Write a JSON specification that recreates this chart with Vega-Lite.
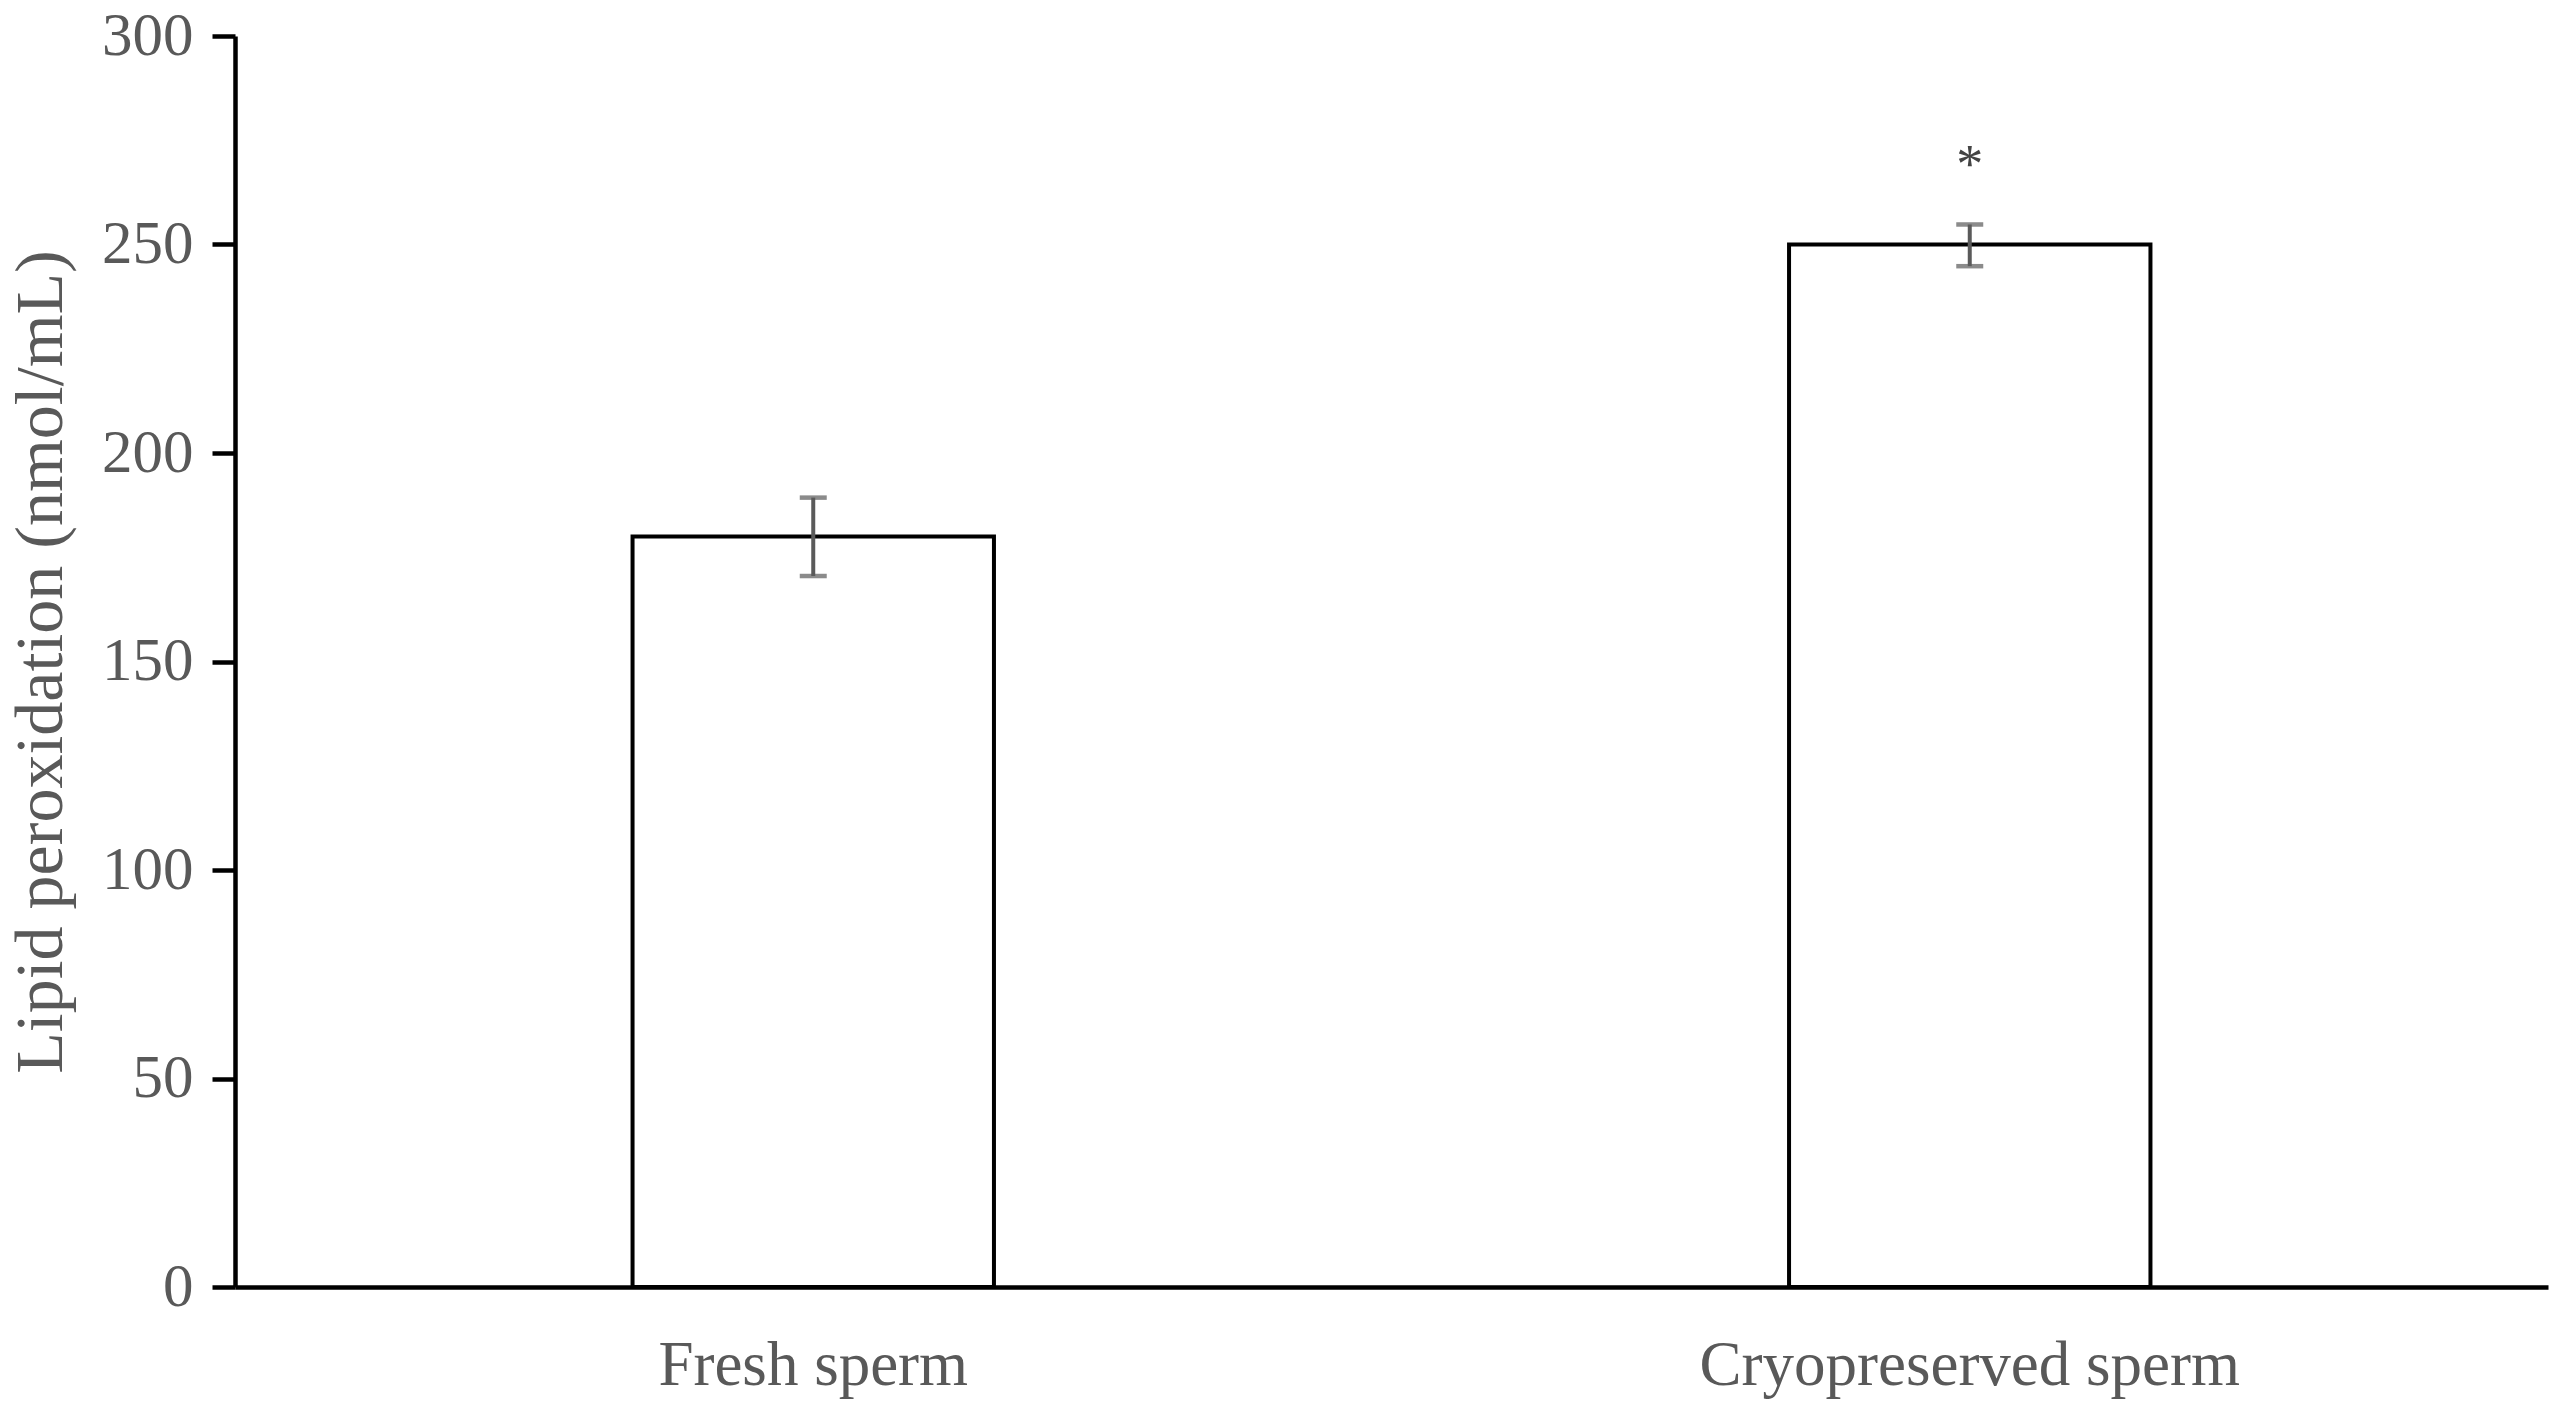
{
  "$schema": "https://vega.github.io/schema/vega-lite/v6.json",
  "autosize": {"type": "none"},
  "width": 2313,
  "height": 1251,
  "padding": {"left": 235, "top": 36, "right": 13, "bottom": 129},
  "background": "white",
  "config": {
    "view": {"stroke": null},
    "font": "Liberation Serif",
    "axis": {"grid": false}
  },
  "data": {
    "values": [
      {"group": "Fresh sperm", "mean": 180, "lower": 170.5, "upper": 189.3, "sig": ""},
      {"group": "Cryopreserved sperm", "mean": 250, "lower": 244.8, "upper": 254.8, "sig": "*"}
    ]
  },
  "encoding": {
    "x": {
      "field": "group",
      "type": "nominal",
      "sort": null,
      "scale": {"paddingInner": 0, "paddingOuter": 0},
      "axis": {
        "title": null,
        "labelAngle": 0,
        "labelLimit": 0,
        "labelFont": "Liberation Serif",
        "labelFontSize": 63,
        "labelColor": "#595959",
        "labelPadding": 47,
        "ticks": false,
        "domainColor": "black",
        "domainWidth": 4.5
      }
    }
  },
  "layer": [
    {
      "mark": {"type": "bar", "fill": "white", "stroke": "black", "strokeWidth": 4, "width": {"band": 0.3125}},
      "encoding": {
        "y": {
          "field": "mean",
          "type": "quantitative",
          "scale": {"domain": [0, 300]},
          "axis": {
            "title": "Lipid peroxidation (nmol/mL)",
            "titleFont": "Liberation Serif",
            "titleFontSize": 68,
            "titleFontWeight": "normal",
            "titleColor": "#595959",
            "titlePadding": 26,
            "values": [0, 50, 100, 150, 200, 250, 300],
            "labelFont": "Liberation Serif",
            "labelFontSize": 61,
            "labelColor": "#595959",
            "labelPadding": 19,
            "tickSize": 23,
            "tickWidth": 4.5,
            "tickColor": "black",
            "domainColor": "black",
            "domainWidth": 4.5
          }
        }
      }
    },
    {
      "mark": {"type": "rule", "color": "#5a5a5a", "strokeWidth": 4},
      "encoding": {
        "y": {"field": "lower", "type": "quantitative"},
        "y2": {"field": "upper"}
      }
    },
    {
      "mark": {"type": "tick", "color": "#5a5a5a", "thickness": 4.5, "size": 27, "orient": "horizontal"},
      "encoding": {
        "y": {"field": "lower", "type": "quantitative"}
      }
    },
    {
      "mark": {"type": "tick", "color": "#5a5a5a", "thickness": 4.5, "size": 27, "orient": "horizontal"},
      "encoding": {
        "y": {"field": "upper", "type": "quantitative"}
      }
    },
    {
      "mark": {"type": "text", "color": "#444444", "fontSize": 54, "font": "Liberation Serif", "baseline": "alphabetic", "dy": -42},
      "encoding": {
        "y": {"field": "upper", "type": "quantitative"},
        "text": {"field": "sig"}
      }
    }
  ]
}
